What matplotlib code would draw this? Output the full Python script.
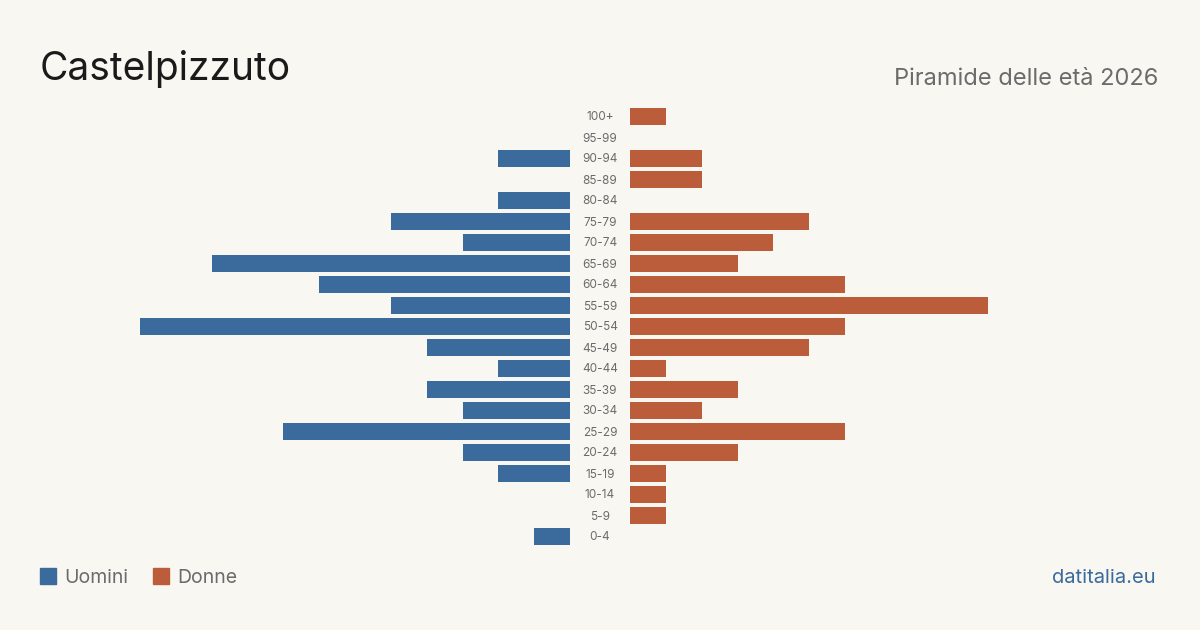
import matplotlib.pyplot as plt
from matplotlib.patches import Rectangle

plt.rcParams['font.family'] = ['Inter', 'DejaVu Sans']

# age classes, top to bottom
age_groups = ["100+", "95-99", "90-94", "85-89", "80-84", "75-79", "70-74",
              "65-69", "60-64", "55-59", "50-54", "45-49", "40-44", "35-39",
              "30-34", "25-29", "20-24", "15-19", "10-14", "5-9", "0-4"]
uomini = [0, 0, 2, 0, 2, 5, 3, 10, 7, 5, 12, 4, 2, 4, 3, 8, 3, 2, 0, 0, 1]
donne = [1, 0, 2, 2, 0, 5, 4, 3, 6, 10, 6, 5, 1, 3, 2, 6, 3, 1, 1, 1, 0]

BG = "#f9f7f2"
BLUE = "#3a6b9c"
RED = "#bb5c3b"
GREY = "#6b6b6b"

W, H = 1200, 630
fig = plt.figure(figsize=(12, 6.3), dpi=100, facecolor=BG)

xmax = max(max(uomini), max(donne))
top_px, bot_px = 106, 547
ax_b = 1 - bot_px / H
ax_h = (bot_px - top_px) / H

axl = fig.add_axes([140 / W, ax_b, 430 / W, ax_h])
axr = fig.add_axes([630 / W, ax_b, 430 / W, ax_h])

pos = list(range(len(age_groups)))
axl.barh(pos, uomini, height=0.81, color=BLUE)
axr.barh(pos, donne, height=0.81, color=RED)

for ax in (axl, axr):
    ax.set_facecolor(BG)
    ax.set_ylim(len(age_groups) - 0.5, -0.5)
    ax.axis("off")
axl.set_xlim(xmax, 0)
axr.set_xlim(0, xmax)

# age labels in the gap between the two halves
for i, lab in enumerate(age_groups):
    y = 117.5 + 21 * i
    fig.text(600 / W, 1 - y / H, lab, ha="center", va="center",
             fontsize=8.5, color=GREY)

fig.text(40 / W, 1 - 80 / H, "Castelpizzuto", fontsize=28,
         color="#1a1a1a", ha="left", va="baseline")
fig.text(1158 / W, 1 - 85 / H, "Piramide delle età 2026", fontsize=17,
         color=GREY, ha="right", va="baseline")

# legend
fig.patches.append(Rectangle((40 / W, 1 - 584 / H), 16 / W, 16 / H,
                             transform=fig.transFigure, color=BLUE))
fig.text(64 / W, 1 - 583 / H, "Uomini", fontsize=14, color=GREY,
         ha="left", va="baseline")
fig.patches.append(Rectangle((153 / W, 1 - 584 / H), 16 / W, 16 / H,
                             transform=fig.transFigure, color=RED))
fig.text(177 / W, 1 - 583 / H, "Donne", fontsize=14, color=GREY,
         ha="left", va="baseline")

fig.text(1156 / W, 1 - 583 / H, "datitalia.eu", fontsize=14.5, color=BLUE,
         ha="right", va="baseline")

fig.savefig("out.png", dpi=100, facecolor=BG)
